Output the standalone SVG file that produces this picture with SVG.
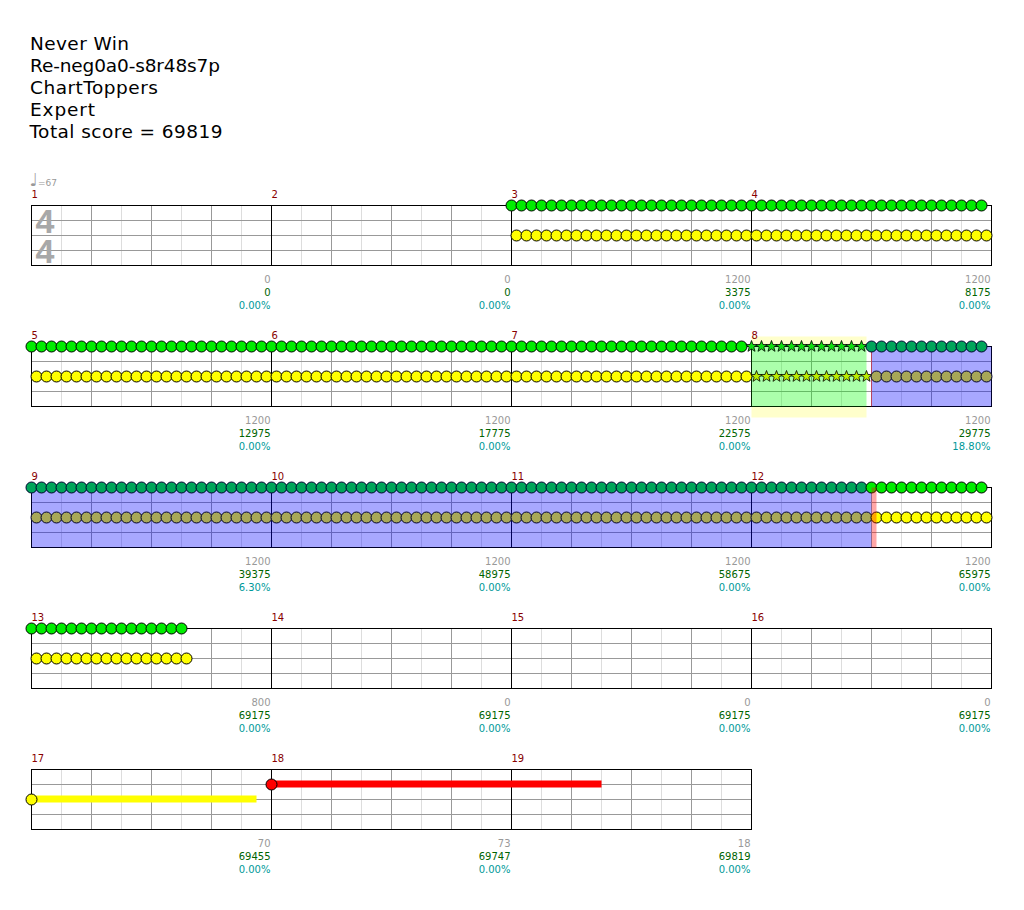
<svg xmlns="http://www.w3.org/2000/svg" xmlns:xlink="http://www.w3.org/1999/xlink" width="1024" height="910" viewBox="0 0 1024 910">
<style>
.title{font-family:"DejaVu Sans",sans-serif;font-size:18.5px;fill:#000}
.m{font-family:"DejaVu Sans",sans-serif;font-size:10px;fill:#880000}
.s{font-family:"DejaVu Sans",sans-serif;font-size:10px;fill:#999;text-anchor:end}
.p{font-family:"DejaVu Sans",sans-serif;font-size:10px;fill:#006400;text-anchor:end}
.c{font-family:"DejaVu Sans",sans-serif;font-size:10px;fill:#009999;text-anchor:end}
.t{font-family:"DejaVu Sans",sans-serif;font-size:9px;fill:#999}
.ts{font-family:"Liberation Sans",sans-serif;font-size:34px;font-weight:bold;fill:#a8a8a8}
.bg{fill:#fff}
.bd{fill:none;stroke:#000}
.ml{stroke:#000}
</style>
<defs>
<circle id="nG" r="5.5" fill="#00ee00" stroke="#000"/>
<circle id="nY" r="5.5" fill="#ffff00" stroke="#000"/>
<circle id="nR" r="5.5" fill="#ff0000" stroke="#000"/>
<circle id="nGa" r="5.5" fill="#00a55a" stroke="#000030"/>
<circle id="nYa" r="5.5" fill="#a8a857" stroke="#000030"/>
<path id="sG" d="M0,-6L1.47,-2.02 5.71,-1.85 2.38,0.77 3.53,4.85 0,2.5 -3.53,4.85 -2.38,0.77 -5.71,-1.85 -1.47,-2.02Z" fill="#11dd11" stroke="#000" stroke-width="0.8"/>
<path id="sY" d="M0,-6L1.47,-2.02 5.71,-1.85 2.38,0.77 3.53,4.85 0,2.5 -3.53,4.85 -2.38,0.77 -5.71,-1.85 -1.47,-2.02Z" fill="#bbee00" stroke="#000" stroke-width="0.8"/>
<g id="gH"><use href="#nG" x="0"/><use href="#nG" x="10"/><use href="#nG" x="20"/><use href="#nG" x="30"/><use href="#nG" x="40"/><use href="#nG" x="50"/><use href="#nG" x="60"/><use href="#nG" x="70"/><use href="#nG" x="80"/><use href="#nG" x="90"/><use href="#nG" x="100"/><use href="#nG" x="110"/></g>
<g id="yH"><use href="#nY" x="5"/><use href="#nY" x="15"/><use href="#nY" x="25"/><use href="#nY" x="35"/><use href="#nY" x="45"/><use href="#nY" x="55"/><use href="#nY" x="65"/><use href="#nY" x="75"/><use href="#nY" x="85"/><use href="#nY" x="95"/><use href="#nY" x="105"/><use href="#nY" x="115"/></g>
<g id="gHa"><use href="#nGa" x="0"/><use href="#nGa" x="10"/><use href="#nGa" x="20"/><use href="#nGa" x="30"/><use href="#nGa" x="40"/><use href="#nGa" x="50"/><use href="#nGa" x="60"/><use href="#nGa" x="70"/><use href="#nGa" x="80"/><use href="#nGa" x="90"/><use href="#nGa" x="100"/><use href="#nGa" x="110"/></g>
<g id="yHa"><use href="#nYa" x="5"/><use href="#nYa" x="15"/><use href="#nYa" x="25"/><use href="#nYa" x="35"/><use href="#nYa" x="45"/><use href="#nYa" x="55"/><use href="#nYa" x="65"/><use href="#nYa" x="75"/><use href="#nYa" x="85"/><use href="#nYa" x="95"/><use href="#nYa" x="105"/><use href="#nYa" x="115"/></g>
<g id="gHs"><use href="#sG" x="0"/><use href="#sG" x="10"/><use href="#sG" x="20"/><use href="#sG" x="30"/><use href="#sG" x="40"/><use href="#sG" x="50"/><use href="#sG" x="60"/><use href="#sG" x="70"/><use href="#sG" x="80"/><use href="#sG" x="90"/><use href="#sG" x="100"/><use href="#sG" x="110"/></g>
<g id="yHs"><use href="#sY" x="5"/><use href="#sY" x="15"/><use href="#sY" x="25"/><use href="#sY" x="35"/><use href="#sY" x="45"/><use href="#sY" x="55"/><use href="#sY" x="65"/><use href="#sY" x="75"/><use href="#sY" x="85"/><use href="#sY" x="95"/><use href="#sY" x="105"/><use href="#sY" x="115"/></g>
<g id="grid">
<path d="M30,0V60M90,0V60M150,0V60M210,0V60" stroke="#dddddd"/>
<path d="M60,0V60M120,0V60M180,0V60" stroke="#999"/>
<path d="M0,15H240M0,30H240M0,45H240" stroke="#999"/>
</g>
</defs>
<rect width="1024" height="910" fill="#fff"/>
<g id="header">
<text class="title" x="30" y="50" textLength="99">Never Win</text>
<text class="title" x="30" y="72" textLength="190">Re-neg0a0-s8r48s7p</text>
<text class="title" x="30" y="94" textLength="128">ChartToppers</text>
<text class="title" x="30" y="116" textLength="65">Expert</text>
<text class="title" x="29.5" y="138" textLength="193">Total score = 69819</text>
</g>
<g transform="translate(0.5,0.5)">
<g id="row1">
<text class="t" x="29" y="185"><tspan font-size="18">♩</tspan>=67</text>
<rect class="bg" x="31" y="205" width="960" height="60"/>
<use href="#grid" x="31" y="205"/><use href="#grid" x="271" y="205"/><use href="#grid" x="511" y="205"/><use href="#grid" x="751" y="205"/>
<path class="ml" d="M271,205V265M511,205V265M751,205V265"/>
<rect class="bd" x="31" y="205" width="960" height="60"/>
<text class="ts"><tspan x="35" y="232">4</tspan><tspan x="35" y="262">4</tspan></text>
<g id="m1"><text class="m" x="31" y="197">1</text><text class="s" x="270" y="282">0</text><text class="p" x="270" y="295">0</text><text class="c" x="270" y="308">0.00%</text></g>
<g id="m2"><text class="m" x="271" y="197">2</text><text class="s" x="510" y="282">0</text><text class="p" x="510" y="295">0</text><text class="c" x="510" y="308">0.00%</text></g>
<g id="m3"><text class="m" x="511" y="197">3</text><text class="s" x="750" y="282">1200</text><text class="p" x="750" y="295">3375</text><text class="c" x="750" y="308">0.00%</text></g>
<g id="m4"><text class="m" x="751" y="197">4</text><text class="s" x="990" y="282">1200</text><text class="p" x="990" y="295">8175</text><text class="c" x="990" y="308">0.00%</text></g>
<use href="#gH" x="511" y="205"/><use href="#gH" x="631" y="205"/><use href="#gH" x="751" y="205"/><use href="#gH" x="871" y="205"/>
<use href="#yH" x="511" y="235"/><use href="#yH" x="631" y="235"/><use href="#yH" x="751" y="235"/><use href="#yH" x="871" y="235"/>
</g>
<g id="row2">
<rect x="751" y="336" width="115" height="81" fill="#ffffcc"/>
<rect class="bg" x="31" y="346" width="960" height="60"/>
<use href="#grid" x="31" y="346"/><use href="#grid" x="271" y="346"/><use href="#grid" x="511" y="346"/><use href="#grid" x="751" y="346"/>
<path class="ml" d="M271,346V406M511,346V406M751,346V406"/>
<rect class="bd" x="31" y="346" width="960" height="60"/>
<rect x="751" y="346" width="115" height="60" fill="#00ff00" fill-opacity="0.33"/>
<rect x="871" y="346" width="120" height="60" fill="#0000ff" fill-opacity="0.34"/>
<path d="M871,346V406" stroke="#ff0000" stroke-opacity="0.45"/>
<g id="m5"><text class="m" x="31" y="338">5</text><text class="s" x="270" y="423">1200</text><text class="p" x="270" y="436">12975</text><text class="c" x="270" y="449">0.00%</text></g>
<g id="m6"><text class="m" x="271" y="338">6</text><text class="s" x="510" y="423">1200</text><text class="p" x="510" y="436">17775</text><text class="c" x="510" y="449">0.00%</text></g>
<g id="m7"><text class="m" x="511" y="338">7</text><text class="s" x="750" y="423">1200</text><text class="p" x="750" y="436">22575</text><text class="c" x="750" y="449">0.00%</text></g>
<g id="m8"><text class="m" x="751" y="338">8</text><text class="s" x="990" y="423">1200</text><text class="p" x="990" y="436">29775</text><text class="c" x="990" y="449">18.80%</text></g>
<use href="#gH" x="31" y="346"/><use href="#gH" x="151" y="346"/><use href="#gH" x="271" y="346"/><use href="#gH" x="391" y="346"/><use href="#gH" x="511" y="346"/><use href="#gH" x="631" y="346"/><use href="#gHs" x="751" y="346"/><use href="#gHa" x="871" y="346"/>
<use href="#yH" x="31" y="376"/><use href="#yH" x="151" y="376"/><use href="#yH" x="271" y="376"/><use href="#yH" x="391" y="376"/><use href="#yH" x="511" y="376"/><use href="#yH" x="631" y="376"/><use href="#yHs" x="751" y="376"/><use href="#yHa" x="871" y="376"/>
</g>
<g id="row3">
<rect class="bg" x="31" y="487" width="960" height="60"/>
<use href="#grid" x="31" y="487"/><use href="#grid" x="271" y="487"/><use href="#grid" x="511" y="487"/><use href="#grid" x="751" y="487"/>
<path class="ml" d="M271,487V547M511,487V547M751,487V547"/>
<rect class="bd" x="31" y="487" width="960" height="60"/>
<rect x="31" y="487" width="840" height="60" fill="#0000ff" fill-opacity="0.34"/>
<g id="m9"><text class="m" x="31" y="479">9</text><text class="s" x="270" y="564">1200</text><text class="p" x="270" y="577">39375</text><text class="c" x="270" y="590">6.30%</text></g>
<g id="m10"><text class="m" x="271" y="479">10</text><text class="s" x="510" y="564">1200</text><text class="p" x="510" y="577">48975</text><text class="c" x="510" y="590">0.00%</text></g>
<g id="m11"><text class="m" x="511" y="479">11</text><text class="s" x="750" y="564">1200</text><text class="p" x="750" y="577">58675</text><text class="c" x="750" y="590">0.00%</text></g>
<g id="m12"><text class="m" x="751" y="479">12</text><text class="s" x="990" y="564">1200</text><text class="p" x="990" y="577">65975</text><text class="c" x="990" y="590">0.00%</text></g>
<use href="#gHa" x="31" y="487"/><use href="#gHa" x="151" y="487"/><use href="#gHa" x="271" y="487"/><use href="#gHa" x="391" y="487"/><use href="#gHa" x="511" y="487"/><use href="#gHa" x="631" y="487"/><use href="#gHa" x="751" y="487"/><use href="#gH" x="871" y="487"/>
<use href="#yHa" x="31" y="517"/><use href="#yHa" x="151" y="517"/><use href="#yHa" x="271" y="517"/><use href="#yHa" x="391" y="517"/><use href="#yHa" x="511" y="517"/><use href="#yHa" x="631" y="517"/><use href="#yHa" x="751" y="517"/><use href="#yH" x="871" y="517"/>
<rect x="871" y="487" width="5" height="60" fill="#ff0000" fill-opacity="0.35"/>
</g>
<g id="row4">
<rect class="bg" x="31" y="628" width="960" height="60"/>
<use href="#grid" x="31" y="628"/><use href="#grid" x="271" y="628"/><use href="#grid" x="511" y="628"/><use href="#grid" x="751" y="628"/>
<path class="ml" d="M271,628V688M511,628V688M751,628V688"/>
<rect class="bd" x="31" y="628" width="960" height="60"/>
<g id="m13"><text class="m" x="31" y="620">13</text><text class="s" x="270" y="705">800</text><text class="p" x="270" y="718">69175</text><text class="c" x="270" y="731">0.00%</text></g>
<g id="m14"><text class="m" x="271" y="620">14</text><text class="s" x="510" y="705">0</text><text class="p" x="510" y="718">69175</text><text class="c" x="510" y="731">0.00%</text></g>
<g id="m15"><text class="m" x="511" y="620">15</text><text class="s" x="750" y="705">0</text><text class="p" x="750" y="718">69175</text><text class="c" x="750" y="731">0.00%</text></g>
<g id="m16"><text class="m" x="751" y="620">16</text><text class="s" x="990" y="705">0</text><text class="p" x="990" y="718">69175</text><text class="c" x="990" y="731">0.00%</text></g>
<use href="#gH" x="31" y="628"/><use href="#nG" x="151" y="628"/><use href="#nG" x="161" y="628"/><use href="#nG" x="171" y="628"/><use href="#nG" x="181" y="628"/>
<use href="#yH" x="31" y="658"/><use href="#nY" x="156" y="658"/><use href="#nY" x="166" y="658"/><use href="#nY" x="176" y="658"/><use href="#nY" x="186" y="658"/>
</g>
<g id="row5">
<rect class="bg" x="31" y="769" width="720" height="60"/>
<use href="#grid" x="31" y="769"/><use href="#grid" x="271" y="769"/><use href="#grid" x="511" y="769"/>
<path class="ml" d="M271,769V829M511,769V829"/>
<rect class="bd" x="31" y="769" width="720" height="60"/>
<g id="m17"><text class="m" x="31" y="761">17</text><text class="s" x="270" y="846">70</text><text class="p" x="270" y="859">69455</text><text class="c" x="270" y="872">0.00%</text></g>
<g id="m18"><text class="m" x="271" y="761">18</text><text class="s" x="510" y="846">73</text><text class="p" x="510" y="859">69747</text><text class="c" x="510" y="872">0.00%</text></g>
<g id="m19"><text class="m" x="511" y="761">19</text><text class="s" x="750" y="846">18</text><text class="p" x="750" y="859">69819</text><text class="c" x="750" y="872">0.00%</text></g>
<rect x="31" y="795" width="225" height="7" fill="#ffff00"/>
<use href="#nY" x="31" y="799"/>
<rect x="271" y="780" width="330" height="7" fill="#ff0000"/>
<use href="#nR" x="271" y="784"/>
</g>
</g>
</svg>
